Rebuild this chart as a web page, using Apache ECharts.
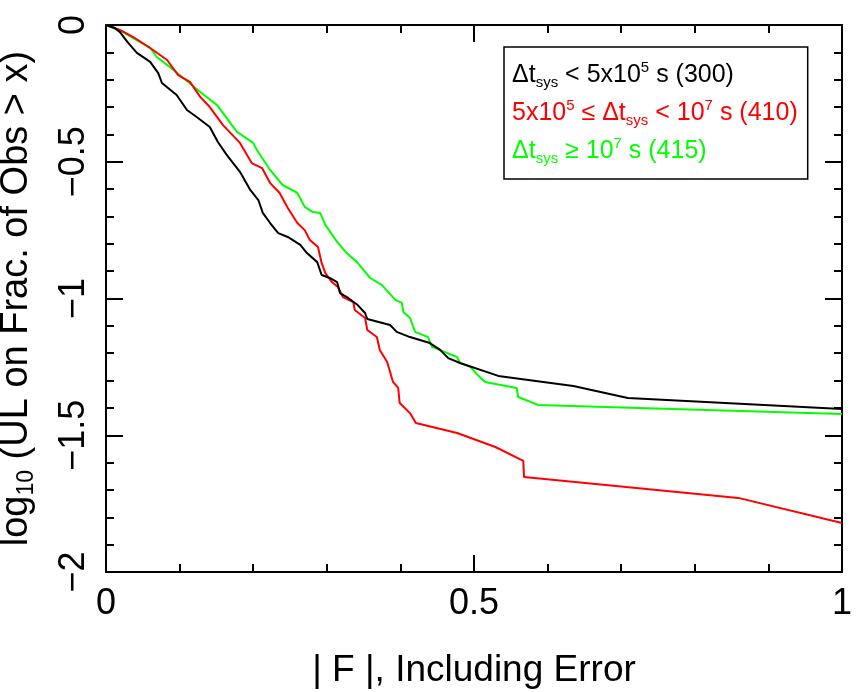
<!DOCTYPE html>
<html><head><meta charset="utf-8">
<script src="https://cdn.jsdelivr.net/npm/echarts@6/dist/echarts.min.js"></script>
<style>html,body{margin:0;padding:0;background:#fff}#c{width:866px;height:692px}</style>
</head><body><div id="c"></div>
<script>
// Series names
const seriesNames = ['short', 'mid', 'long'];
const seriesColors = ['#000000', '#ff0000', '#00ff00'];

// Δt_sys < 5x10^5 s (300)
const shortX = [0, 0.012, 0.019, 0.029, 0.042, 0.060, 0.071, 0.076, 0.096, 0.110, 0.125, 0.141, 0.152, 0.164, 0.182, 0.196, 0.207, 0.213, 0.223, 0.234, 0.247, 0.264, 0.273, 0.287, 0.293, 0.304, 0.314, 0.318, 0.329, 0.342, 0.352, 0.355, 0.386, 0.395, 0.413, 0.440, 0.454, 0.465, 0.481, 0.533, 0.635, 0.709, 1.0];
const shortY = [0, -0.011, -0.026, -0.062, -0.102, -0.135, -0.176, -0.212, -0.256, -0.311, -0.340, -0.373, -0.428, -0.475, -0.537, -0.603, -0.640, -0.687, -0.724, -0.761, -0.775, -0.804, -0.834, -0.867, -0.914, -0.925, -0.940, -0.980, -0.998, -1.024, -1.053, -1.075, -1.097, -1.122, -1.141, -1.163, -1.188, -1.218, -1.236, -1.283, -1.320, -1.364, -1.404];

// 5x10^5 <= Δt_sys < 10^7 s (410)
const midX = [0, 0.019, 0.037, 0.060, 0.083, 0.098, 0.114, 0.128, 0.141, 0.159, 0.182, 0.198, 0.212, 0.223, 0.236, 0.247, 0.260, 0.270, 0.277, 0.288, 0.293, 0.298, 0.307, 0.315, 0.322, 0.336, 0.338, 0.352, 0.355, 0.368, 0.372, 0.382, 0.390, 0.397, 0.399, 0.413, 0.421, 0.477, 0.529, 0.567, 0.568, 0.859, 1.0];
const midY = [0, -0.018, -0.044, -0.084, -0.128, -0.183, -0.208, -0.263, -0.300, -0.366, -0.431, -0.505, -0.523, -0.578, -0.614, -0.669, -0.724, -0.750, -0.786, -0.812, -0.870, -0.907, -0.940, -0.958, -0.995, -1.013, -1.042, -1.071, -1.115, -1.141, -1.188, -1.232, -1.305, -1.327, -1.382, -1.419, -1.455, -1.492, -1.543, -1.594, -1.653, -1.729, -1.821];

// Δt_sys >= 10^7 s (415)
const longX = [0, 0.023, 0.037, 0.060, 0.069, 0.087, 0.105, 0.128, 0.151, 0.178, 0.200, 0.205, 0.223, 0.240, 0.260, 0.270, 0.281, 0.291, 0.298, 0.314, 0.327, 0.341, 0.359, 0.375, 0.393, 0.402, 0.404, 0.413, 0.420, 0.4375, 0.443, 0.477, 0.481, 0.495, 0.505, 0.515, 0.558, 0.560, 0.587, 1.0];
const longY = [0, -0.026, -0.048, -0.084, -0.117, -0.154, -0.194, -0.245, -0.293, -0.391, -0.431, -0.457, -0.530, -0.585, -0.614, -0.665, -0.684, -0.687, -0.731, -0.793, -0.834, -0.867, -0.925, -0.951, -1.005, -1.016, -1.049, -1.071, -1.122, -1.141, -1.177, -1.214, -1.236, -1.250, -1.280, -1.305, -1.327, -1.360, -1.389, -1.422];

const xTicks = [0, 0.5, 1];
const yTicks = [0, -0.5, -1, -1.5, -2];

const FONT = '"Liberation Sans", Arial, Helvetica, sans-serif';
const seriesX = [shortX, midX, longX];
const seriesY = [shortY, midY, longY];

const legendRich = {};
seriesColors.forEach((c, i) => {
  legendRich['b' + i] = {fontSize: 25, color: c, fontFamily: FONT, lineHeight: 30};
  legendRich['s' + i] = {fontSize: 15, color: c, fontFamily: FONT, verticalAlign: 'bottom', lineHeight: 12};
  legendRich['p' + i] = {fontSize: 15, color: c, fontFamily: FONT, verticalAlign: 'top', lineHeight: 16};
});
const legendLabels = {
  short: '{b0|Δt}{s0|sys}{b0| < 5x10}{p0|5}{b0| s (300)}',
  mid: '{b1|5x10}{p1|5}{b1| ≤ Δt}{s1|sys}{b1| < 10}{p1|7}{b1| s (410)}',
  long: '{b2|Δt}{s2|sys}{b2| ≥ 10}{p2|7}{b2| s (415)}'
};

const fmtNum = v => (v < 0 ? '−' + String(-v) : String(v));

function axisCommon() {
  return {
    axisLine: {show: true, onZero: false, lineStyle: {color: '#000', width: 2}},
    axisTick: {show: true, inside: true, length: 17, lineStyle: {color: '#000', width: 2}},
    minorTick: {show: true, splitNumber: 5, length: 8, lineStyle: {color: '#000', width: 2}},
    splitLine: {show: false}
  };
}

const option = {
  animation: false,
  backgroundColor: '#fff',
  grid: {left: 106, right: 24, top: 25, bottom: 120, containLabel: false, outerBoundsMode: 'none'},
  legend: {
    show: true,
    orient: 'vertical',
    left: 504, top: 47,
    selectedMode: false,
    icon: 'none',
    itemWidth: 0, itemHeight: 10,
    itemGap: 8,
    padding: [13, 10, 13, 3],
    borderColor: '#000', borderWidth: 1.5,
    backgroundColor: '#fff',
    data: seriesNames.map(n => ({name: n})),
    formatter: n => legendLabels[n],
    textStyle: {fontSize: 25, fontFamily: FONT, lineHeight: 30, rich: legendRich}
  },
  xAxis: [
    Object.assign(axisCommon(), {
      type: 'value', min: 0, max: 1, interval: 0.5, position: 'bottom',
      name: '| F |, Including Error', nameLocation: 'middle', nameGap: 80,
      nameTextStyle: {fontSize: 37, color: '#000', fontFamily: FONT},
      axisLabel: {show: true, fontSize: 36, color: '#000', fontFamily: FONT, margin: 14,
        formatter: v => xTicks.indexOf(v) >= 0 ? fmtNum(v) : ''}
    }),
    Object.assign(axisCommon(), {
      type: 'value', min: 0, max: 1, interval: 0.5, position: 'top',
      axisLabel: {show: false}
    })
  ],
  yAxis: [
    Object.assign(axisCommon(), {
      type: 'value', min: -2, max: 0, interval: 0.5, position: 'left',
      name: '{a|log}{s|10}{a| (UL on Frac. of Obs > x)}', nameLocation: 'middle', nameGap: 68, nameRotate: 90,
      nameTextStyle: {fontSize: 38, color: '#000', fontFamily: FONT,
        rich: {a: {fontSize: 38, fontFamily: FONT, color: '#000', lineHeight: 42},
               s: {fontSize: 23, fontFamily: FONT, color: '#000', verticalAlign: 'bottom', lineHeight: 22}}},
      axisLabel: {show: true, rotate: 90, fontSize: 36, color: '#000', fontFamily: FONT, margin: 14,
        formatter: v => yTicks.indexOf(v) >= 0 ? fmtNum(v) : ''}
    }),
    Object.assign(axisCommon(), {
      type: 'value', min: -2, max: 0, interval: 0.5, position: 'right',
      axisLabel: {show: false}
    })
  ],
  series: seriesNames.map((n, i) => ({
    name: n,
    type: 'line',
    xAxisIndex: 0, yAxisIndex: 0,
    showSymbol: false,
    symbol: 'none',
    color: seriesColors[i],
    lineStyle: {color: seriesColors[i], width: 2},
    data: seriesX[i].map((x, j) => [x, seriesY[i][j]]),
    z: 3 - i
  }))
};
const chart = echarts.init(document.getElementById('c'), null, {renderer: 'canvas'});
chart.setOption(option);
</script>
</body></html>
